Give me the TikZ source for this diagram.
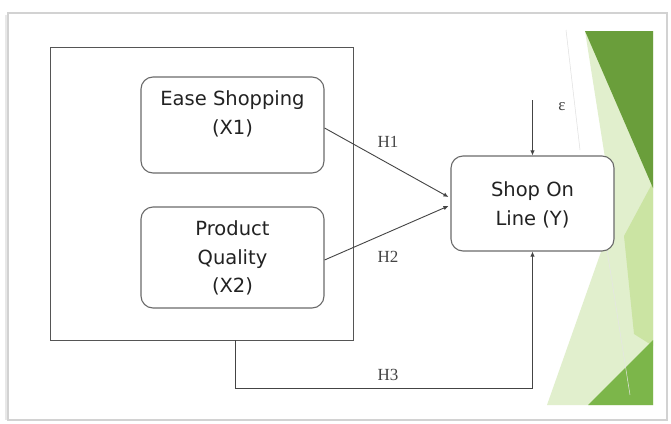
\documentclass[tikz,border=0pt]{standalone}
\usepackage{fontspec}
\setmainfont{Liberation Serif}
\newfontfamily\boxfont{DejaVu Sans}
\usetikzlibrary{arrows.meta}

\definecolor{leafdark}{HTML}{6A9E3B}
\definecolor{leafpale}{HTML}{E1EFCD}
\definecolor{leafmid}{HTML}{CBE4A3}
\definecolor{leafbright}{HTML}{7CB64A}
\definecolor{edgegray}{HTML}{6A6A6A}
\definecolor{linegray}{HTML}{444444}
\definecolor{framegray}{HTML}{555555}
\definecolor{inkgray}{HTML}{222222}

\tikzset{
  varbox/.style={draw=edgegray, line width=1.1pt, rounded corners=12pt, fill=white},
  boxtext/.style={font=\boxfont\fontsize{19.5}{28.5}\selectfont, text=inkgray, align=center, inner sep=0pt},
  hyplabel/.style={font=\fontsize{17}{20}\selectfont, text=linegray, inner sep=0pt},
  arr/.style={draw=linegray, line width=0.9pt, -{Latex[length=5pt,width=4.5pt]}},
}

\begin{document}
\begin{tikzpicture}[x=1pt, y=-1pt]
  % page and slide frame
  \useasboundingbox (0,0) rectangle (671,423);
  \fill[white] (0,0) rectangle (671,423);
  \draw[gray!18, line width=3pt] (6,15) -- (6,420);
  \draw[gray!35, line width=1.2pt] (8,13) rectangle (667,420);

  % decorative facets on the right
  \fill[leafpale] (585,31) -- (653,31) -- (653,405) -- (547,405) -- (614,215) -- cycle;
  \fill[leafmid] (653,182) -- (624,236) -- (634,334) -- (653,346) -- cycle;
  \fill[leafdark] (585,31) -- (653,31) -- (653,188) -- cycle;
  \fill[leafbright] (588,405) -- (653,340) -- (653,405) -- cycle;
  \draw[gray!25, line width=0.5pt] (566,30) -- (580,150);
  \draw[gray!20, line width=0.5pt] (607,250) -- (630,395);

  % outer grouping rectangle
  \node (group) [draw=framegray, line width=0.9pt, minimum width=303pt, minimum height=293pt, inner sep=0pt] at (201.5,193.5) {};

  % variable boxes
  \node (ease) [varbox, minimum width=183pt, minimum height=96pt] at (232.5,125) {};
  \node (easetxt) [boxtext] at (232.5,114) {Ease Shopping\\(X1)};

  \node (prod) [varbox, minimum width=183pt, minimum height=101pt] at (232.5,257.5) {};
  \node (prodtxt) [boxtext] at (232.5,258) {Product\\Quality\\(X2)};

  \node (shop) [varbox, minimum width=163pt, minimum height=95pt] at (532.5,203.5) {};
  \node (shoptxt) [boxtext] at (532.5,205) {Shop On\\Line (Y)};

  % paths between variables
  \draw[arr] ([yshift=-3pt]ease.east) -- ([yshift=6.5pt,xshift=-2pt]shop.west);
  \draw[arr] ([yshift=-2.5pt]prod.east) -- ([yshift=-2.5pt,xshift=-2pt]shop.west);
  \draw[arr] (group.south -| 235,0) -- ++(0,48) -| (shop.south);

  % error term
  \coordinate (epsstart) at (532.5,100);
  \draw[arr] (epsstart) -- (shop.north);
  \node (eps) [hyplabel] at (562,107) {ε};

  % hypothesis labels
  \node (h1) [hyplabel] at (388,142) {H1};
  \node (h2) [hyplabel] at (388,257) {H2};
  \node (h3) [hyplabel] at (388,375) {H3};
\end{tikzpicture}
\end{document}
